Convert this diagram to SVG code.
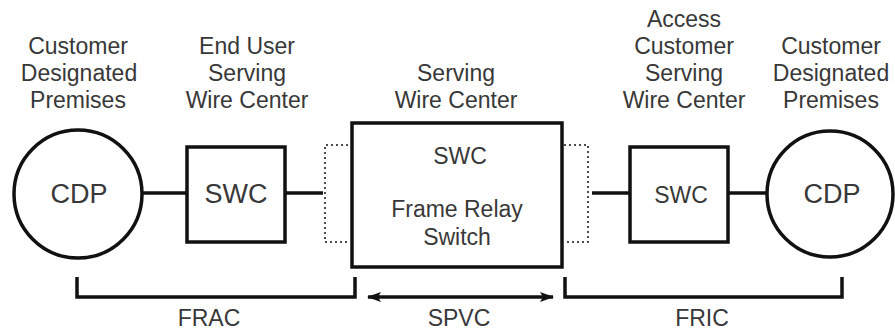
<svg xmlns="http://www.w3.org/2000/svg" width="895" height="331" viewBox="0 0 895 331">
<style>
text{font-family:"Liberation Sans",Arial,sans-serif;fill:#383838;text-anchor:middle}
.lbl{font-size:23px}
.big{font-size:27px}
.sh{fill:#fff;stroke:#111;stroke-width:3.5}
.ln{stroke:#111;stroke-width:3.5;fill:none}
.dot{stroke:#111;stroke-width:1.5;fill:none;stroke-dasharray:2 3}
</style>
<defs>
<marker id="ah" viewBox="0 0 14 10" refX="13" refY="5" markerWidth="14" markerHeight="10" markerUnits="userSpaceOnUse" orient="auto-start-reverse">
<path d="M0,0 L14,5 L0,10 L3,5 Z" fill="#111"/>
</marker>
</defs>
<rect width="895" height="331" fill="#fff"/>
<g id="connectors">
<line class="ln" x1="142" y1="193" x2="187" y2="193"/>
<line class="ln" x1="285" y1="193" x2="323" y2="193"/>
<polyline class="dot" points="348,145 325,145 325,242 348,242"/>
<polyline class="dot" points="564,145 588,145 588,242 564,242"/>
<line class="ln" x1="592" y1="193" x2="630" y2="193"/>
<line class="ln" x1="728" y1="193" x2="767" y2="193"/>
<polyline class="ln" points="77,277 77,297 355,297 355,277"/>
<line class="ln" x1="368" y1="297" x2="553" y2="297" marker-start="url(#ah)" marker-end="url(#ah)"/>
<polyline class="ln" points="565,277 565,297 842,297 842,277"/>
</g>
<g id="cdp-left">
<circle class="sh" cx="78" cy="194" r="64" stroke-width="2.5"/>
<text class="big" x="79" y="203">CDP</text>
<text class="lbl" x="78" y="54">Customer</text>
<text class="lbl" x="79" y="81">Designated</text>
<text class="lbl" x="78" y="108">Premises</text>
</g>
<g id="swc-left">
<rect class="sh" x="187" y="147" width="98" height="95"/>
<text class="big" x="236" y="203">SWC</text>
<text class="lbl" x="247" y="54">End User</text>
<text class="lbl" x="247" y="81">Serving</text>
<text class="lbl" x="247" y="108">Wire Center</text>
</g>
<g id="swc-center">
<rect class="sh" x="352" y="123" width="210" height="144" stroke-width="4"/>
<text class="lbl" x="460" y="164">SWC</text>
<text class="lbl" x="457" y="217">Frame Relay</text>
<text class="lbl" x="457" y="245">Switch</text>
<text class="lbl" x="456" y="81">Serving</text>
<text class="lbl" x="456" y="108">Wire Center</text>
</g>
<g id="swc-right">
<rect class="sh" x="630" y="147" width="98" height="95"/>
<text class="lbl" x="681" y="203">SWC</text>
<text class="lbl" x="684" y="27">Access</text>
<text class="lbl" x="684" y="54">Customer</text>
<text class="lbl" x="684" y="81">Serving</text>
<text class="lbl" x="684" y="108">Wire Center</text>
</g>
<g id="cdp-right">
<circle class="sh" cx="830" cy="194" r="63" stroke-width="2.5"/>
<text class="big" x="832" y="203">CDP</text>
<text class="lbl" x="831" y="54">Customer</text>
<text class="lbl" x="831" y="81">Designated</text>
<text class="lbl" x="831" y="108">Premises</text>
</g>
<g id="labels">
<text class="lbl" x="209" y="326">FRAC</text>
<text class="lbl" x="459" y="326">SPVC</text>
<text class="lbl" x="702" y="326">FRIC</text>
</g>
</svg>
